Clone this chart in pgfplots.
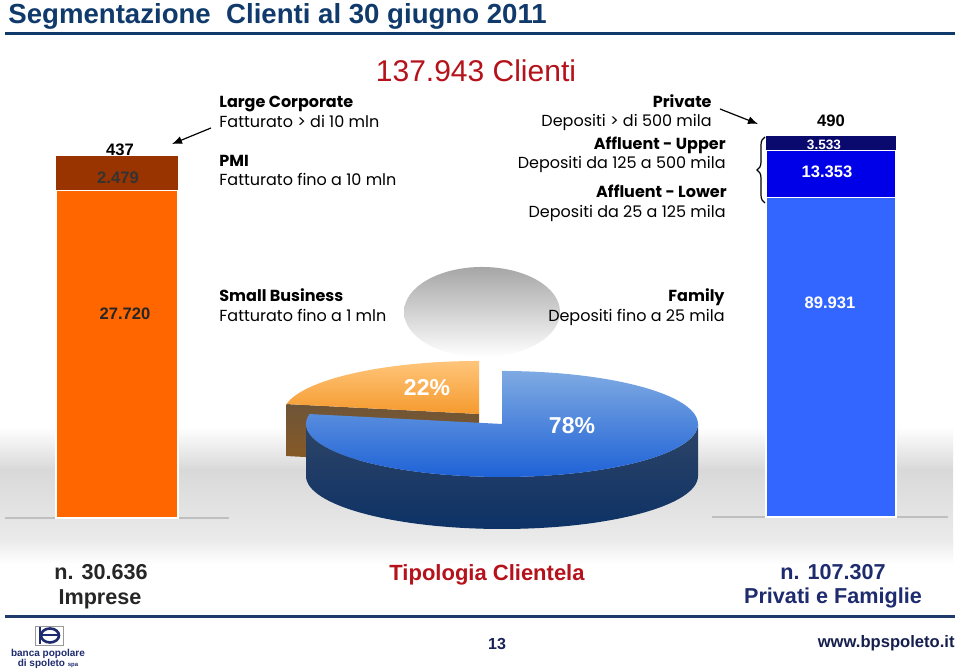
\documentclass[border=0pt]{standalone}
\usepackage{fontspec}
\setmainfont{Liberation Sans}
\newfontfamily\gothic{Poppins}
\usepackage{pgfplots}
\pgfplotsset{compat=1.18}
\usetikzlibrary{decorations.pathreplacing,arrows.meta}
\definecolor{titleblue}{HTML}{0F3A6B}
\definecolor{cred}{HTML}{B5121B}
\definecolor{borange}{HTML}{FF6600}
\definecolor{bbrown}{HTML}{993300}
\definecolor{blight}{HTML}{3366FF}
\definecolor{bmid}{HTML}{0000E8}
\definecolor{bnavy}{HTML}{0A0A6E}
\definecolor{navytext}{HTML}{1E2B6E}
\definecolor{footline}{HTML}{1F3B6B}
\definecolor{pieorA}{HTML}{FFC57A}
\definecolor{pieorB}{HTML}{F59A2E}
\definecolor{piebrA}{HTML}{6E5538}
\definecolor{piebrB}{HTML}{8A5A22}
\definecolor{pieblA}{HTML}{7FAAE2}
\definecolor{pieblB}{HTML}{1A5FD6}
\definecolor{piesdA}{HTML}{2E4466}
\definecolor{piesdB}{HTML}{0D3266}
\begin{document}
\begin{tikzpicture}[x=0.5pt,y=0.5pt]
\useasboundingbox (0,0) rectangle (960,672);
\fill[white] (0,0) rectangle (960,672);
\coordinate (lbar) at (56,154);
\coordinate (rbar) at (766,155);
\coordinate (orig) at (0,0);
% floor band
\shade[top color=white,bottom color=black!15] (0,202) rectangle (953,245);
\shade[top color=black!15,bottom color=black!8] (0,132) rectangle (953,202);
\shade[top color=black!8,bottom color=white] (0,108) rectangle (953,132);
% title
\node[anchor=base west, inner sep=0, text=titleblue, font=\bfseries\fontsize{13.8}{16}\selectfont] at (8,648) {Segmentazione\ \ Clienti al 30 giugno 2011};
\draw[titleblue, line width=1.5pt] (5,638.5) -- (955,638.5);
\node[anchor=base, inner sep=0, text=cred, font=\fontsize{15}{18}\selectfont] at (476,590) {137.943 Clienti};
% pie
\def\pieA{22}\def\pieB{78}
\pgfmathsetmacro{\angO}{90+3.6*\pieA}
\pgfmathsetmacro{\oxA}{479+196*cos(\angO)}
\pgfmathsetmacro{\oyA}{258+53*sin(\angO)}
\pgfmathsetmacro{\oyB}{\oyA-52}
\pgfmathsetmacro{\bxA}{502+196*cos(\angO)}
\pgfmathsetmacro{\byA}{248+53*sin(\angO)}
\begin{axis}[at={(orig)}, anchor=south west, x=0.5pt, y=0.5pt, xmin=0, xmax=960, ymin=0, ymax=672,
  hide axis, clip=false, disabledatascaling]
\shade[top color=black!35, bottom color=white] (482,360) ellipse [x radius=78, y radius=45];
\shade[top color=piebrA, bottom color=piebrB] (\oxA,\oyA) -- (479,258) -- (479,206) -- (\oxA,\oyB) -- cycle;
\shade[top color=pieorA, bottom color=pieorB] (479,258) -- (479,311) arc[start angle=90, end angle=\angO, x radius=196, y radius=53] -- cycle;
\shade[top color=piesdA, bottom color=piesdB] (306,248) arc[start angle=180,end angle=360,x radius=196,y radius=53] -- (698,196) arc[start angle=360,end angle=180,x radius=196,y radius=53] -- cycle;
\shade[top color=pieblA, bottom color=pieblB] (502,248) -- (\bxA,\byA) arc[start angle=\angO, end angle=450, x radius=196, y radius=53] -- cycle;
\node[text=white, font=\bfseries\fontsize{11.5}{13}\selectfont] at (427,284) {\pieA\%};
\node[text=white, font=\bfseries\fontsize{11.5}{13}\selectfont] at (572,246) {\pieB\%};
\end{axis}
% labels left
\begin{scope}[every node/.style={inner sep=0}]
\node[anchor=base west, font=\gothic\bfseries\fontsize{8}{9}\selectfont] at (219,564) {Large Corporate};
\node[anchor=base west, font=\gothic\fontsize{8}{9}\selectfont] at (219,544) {Fatturato > di 10 mln};
\node[anchor=base west, font=\gothic\bfseries\fontsize{8}{9}\selectfont] at (219,505) {PMI};
\node[anchor=base west, font=\gothic\fontsize{8}{9}\selectfont] at (219,486) {Fatturato fino a 10 mln};
\node[anchor=base west, font=\gothic\bfseries\fontsize{8}{9}\selectfont] at (219,370) {Small Business};
\node[anchor=base west, font=\gothic\fontsize{8}{9}\selectfont] at (219,350) {Fatturato fino a 1 mln};
% labels right
\node[anchor=base east, font=\gothic\bfseries\fontsize{8}{9}\selectfont] at (712,564) {Private};
\node[anchor=base east, font=\gothic\fontsize{8}{9}\selectfont] at (712,545) {Depositi > di 500 mila};
\node[anchor=base east, font=\gothic\bfseries\fontsize{8}{9}\selectfont] at (726,522) {Affluent - Upper};
\node[anchor=base east, font=\gothic\fontsize{8}{9}\selectfont] at (726,503) {Depositi da 125 a 500 mila};
\node[anchor=base east, font=\gothic\bfseries\fontsize{8}{9}\selectfont] at (727,474) {Affluent - Lower};
\node[anchor=base east, font=\gothic\fontsize{8}{9}\selectfont] at (726,454) {Depositi da 25 a 125 mila};
\node[anchor=base east, font=\gothic\bfseries\fontsize{8}{9}\selectfont] at (725,370) {Family};
\node[anchor=base east, font=\gothic\fontsize{8}{9}\selectfont] at (725,350) {Depositi fino a 25 mila};
\end{scope}
% baselines
\draw[black!25, line width=1pt] (5,154) -- (229,154);
\draw[black!25, line width=1pt] (712,155) -- (948,155);
% left bar
\begin{axis}[at={(lbar)}, anchor=south west, scale only axis, width=61pt, height=181pt,
  xmin=-0.5, xmax=0.5, ymin=0, ymax=30636, hide axis, clip=false,
  ybar stacked, bar width=61pt]
\addplot[fill=borange, draw=white, line width=0.6pt] coordinates {(0,27720)};
\addplot[fill=bbrown, draw=none] coordinates {(0,2479)};
\addplot[fill=bbrown, draw=none] coordinates {(0,437)};
\end{axis}
% right bar
\begin{axis}[at={(rbar)}, anchor=south west, scale only axis, width=65pt, height=190.5pt,
  xmin=-0.5, xmax=0.5, ymin=0, ymax=107307, hide axis, clip=false,
  ybar stacked, bar width=65pt]
\addplot[fill=blight, draw=white, line width=0.6pt] coordinates {(0,89931)};
\addplot[fill=bmid, draw=white, line width=0.6pt] coordinates {(0,13353)};
\addplot[fill=bnavy, draw=none] coordinates {(0,3533)};
\addplot[fill=bnavy, draw=none] coordinates {(0,490)};
\end{axis}
% bar value labels
\begin{scope}[every node/.style={inner sep=0, font=\bfseries\fontsize{8.3}{10}\selectfont}]
\node at (120,522) {437};
\node[text=black!80] at (118,494) {2.479};
\node[text=black!85] at (125,358) {27.720};
\node at (831,551) {490};
\node[text=white, font=\bfseries\fontsize{6.8}{8}\selectfont] at (824,527) {3.533};
\node[text=white] at (827,500) {13.353};
\node[text=white] at (830,369) {89.931};
\end{scope}
% arrows and brace
\draw[-{Latex[length=5pt,width=4pt]}, line width=0.6pt] (211,544) -- (172,528);
\draw[-{Latex[length=5pt,width=4pt]}, line width=0.6pt] (720,563) -- (758,548);
\draw[decorate, decoration={brace, amplitude=4pt}, line width=0.6pt] (765,469) -- (765,535);
% footer
\begin{scope}[every node/.style={inner sep=0}]
\node[anchor=base, text=black!85, font=\bfseries\fontsize{10.8}{12}\selectfont] at (101,92) {n. 30.636};
\node[anchor=base, text=black!85, font=\bfseries\fontsize{10.8}{12}\selectfont] at (100,67) {Imprese};
\node[anchor=base, text=cred, font=\bfseries\fontsize{11}{12}\selectfont] at (487,91) {Tipologia Clientela};
\node[anchor=base, text=navytext, font=\bfseries\fontsize{10.8}{12}\selectfont] at (833,92) {n. 107.307};
\node[anchor=base, text=navytext, font=\bfseries\fontsize{10.8}{12}\selectfont] at (833,68) {Privati e Famiglie};
\node[anchor=base, text=navytext!80!black, font=\bfseries\fontsize{8}{9}\selectfont] at (497,22) {13};
\node[anchor=base east, text=navytext!70!black, font=\bfseries\fontsize{8.3}{9}\selectfont] at (955,24) {www.bpspoleto.it};
\end{scope}
\draw[footline, line width=1.5pt] (5,55) -- (955,55);
% logo
\draw[black!40, line width=0.4pt, fill=white] (35,27) rectangle (63,46);
\draw[navytext, line width=1.3pt] (50,36.5) ellipse [x radius=9, y radius=7];
\draw[navytext, line width=1pt] (41,36.5) -- (59,36.5);
\draw[navytext, line width=1.4pt] (40,28) -- (40,45);
\node[inner sep=0, text=navytext, font=\bfseries\fontsize{5}{5}\selectfont] at (48,18.5) {banca popolare};
\node[inner sep=0, text=navytext, font=\bfseries\fontsize{5}{5}\selectfont] at (48,8) {di spoleto {\fontsize{3}{3}\selectfont spa}};
\end{tikzpicture}
\end{document}
